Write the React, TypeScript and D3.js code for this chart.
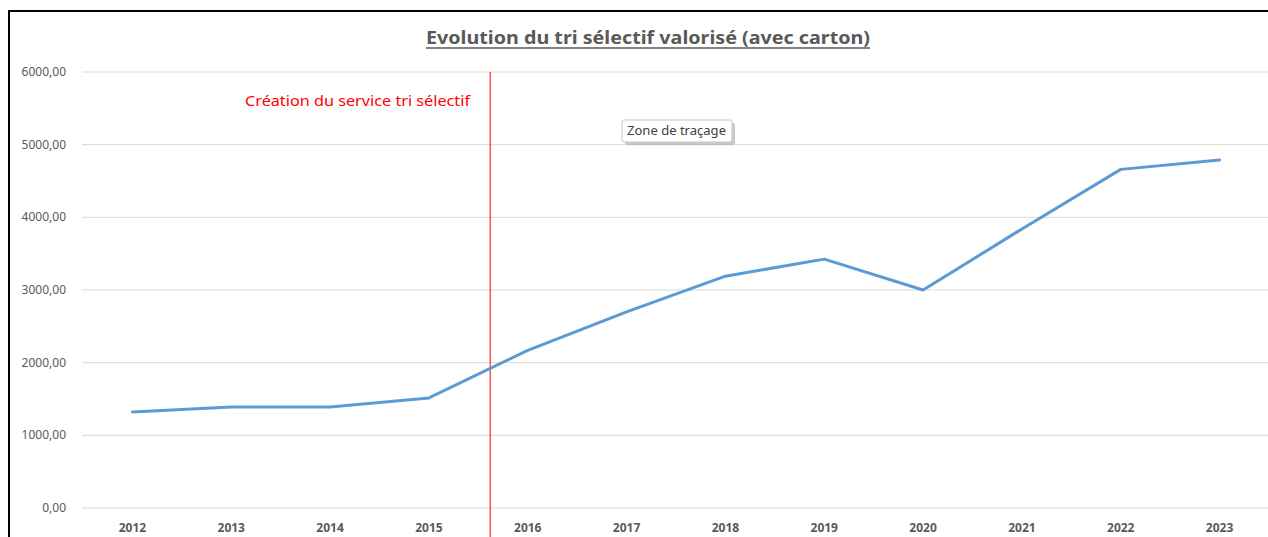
import React from "react";
import * as d3 from "d3";

const years = ["2012", "2013", "2014", "2015", "2016", "2017", "2018", "2019", "2020", "2021", "2022", "2023"];
const tonnage = [1320, 1390, 1390, 1515, 2170, 2700, 3190, 3425, 3000, 3840, 4660, 4790];
const yTicks = [0, 1000, 2000, 3000, 4000, 5000, 6000];

const title = "Evolution du tri sélectif valorisé (avec carton)";
const markerLabel = "Création du service tri sélectif";
// the service started part way between 2015 and 2016
const markerFrom = "2015";
const markerFrac = 0.62;

const W = 1268;
const H = 537;
const font = "'Noto Sans', 'Open Sans', sans-serif";

const App = () => {
  const x = d3.scaleBand().domain(years).range([83, 1269]).padding(0);
  const y = d3.scaleLinear().domain([0, 6000]).range([508, 72]);
  const fmt = (v: number) => d3.format(".2f")(v).replace(".", ",");

  const line = d3
    .line<number>()
    .x((_, i) => (x(years[i]) as number) + x.bandwidth() / 2)
    .y((d) => y(d));

  const markerX = (x(markerFrom) as number) + x.bandwidth() / 2 + x.bandwidth() * markerFrac;

  return (
    <svg
      width={W}
      height={H}
      style={{ position: "absolute", left: 0, top: 0, background: "#fff" }}
      fontFamily={font}
    >
      {/* frame */}
      <line x1={8} y1={11} x2={W} y2={11} stroke="#000" strokeWidth={2} />
      <line x1={9} y1={10} x2={9} y2={H} stroke="#000" strokeWidth={2} />

      {/* title */}
      <text
        x={648}
        y={44}
        textAnchor="middle"
        fontSize={18}
        fontWeight="bold"
        fill="#595959"
        textLength={444}
        lengthAdjust="spacingAndGlyphs"
      >
        {title}
      </text>
      <line x1={426} y1={48} x2={870} y2={48} stroke="#595959" strokeWidth={1.3} />

      {/* grid + y labels */}
      {yTicks.map((t) => (
        <g key={t}>
          <line x1={82} x2={W} y1={y(t)} y2={y(t)} stroke="#d9d9d9" strokeWidth={1} />
          <text x={66} y={y(t) + 4} textAnchor="end" fontSize={12} fill="#595959">
            {fmt(t)}
          </text>
        </g>
      ))}

      {/* x labels */}
      {years.map((yr) => (
        <text
          key={yr}
          x={(x(yr) as number) + x.bandwidth() / 2}
          y={532}
          textAnchor="middle"
          fontSize={12}
          fontWeight="bold"
          fill="#595959"
        >
          {yr}
        </text>
      ))}

      {/* marker */}
      <line x1={markerX} x2={markerX} y1={72} y2={H} stroke="#ff0000" strokeWidth={1} />
      <text x={245} y={106} fontSize={14} fill="#ff0000" textLength={225} lengthAdjust="spacingAndGlyphs">
        {markerLabel}
      </text>

      {/* series */}
      <path d={line(tonnage) || ""} fill="none" stroke="#5b9bd5" strokeWidth={3} strokeLinejoin="round" strokeLinecap="round" />

      {/* tooltip */}
      <rect x={625} y={123} width={110} height={22} rx={2} fill="#a6a6a6" opacity={0.6} />
      <rect x={622} y={120} width={110} height={22} rx={2} fill="#fff" stroke="#c8c8c8" />
      <text x={627} y={135} fontSize={12} fill="#404040" textLength={99} lengthAdjust="spacingAndGlyphs">
        Zone de traçage
      </text>
    </svg>
  );
};

export default App;
